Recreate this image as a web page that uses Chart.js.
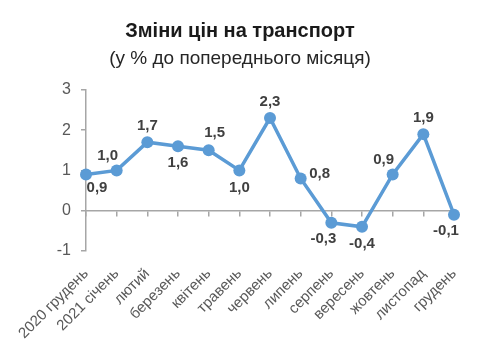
<!DOCTYPE html>
<html>
<head>
<meta charset="utf-8">
<script src="https://cdn.jsdelivr.net/npm/chart.js@4"></script>
<style>
  body { margin: 0; background: #fff; }
  #wrap { width: 480px; height: 352px; }
</style>
</head>
<body>
<div id="wrap"><canvas id="chart" width="480" height="352"></canvas></div>
<script>
// Місяці (категорії осі X)
var months = ['2020 грудень', '2021 січень', 'лютий', 'березень', 'квітень', 'травень',
  'червень', 'липень', 'серпень', 'вересень', 'жовтень', 'листопад', 'грудень'];

// Зміни цін, % до попереднього місяця
var values = [0.9, 1.0, 1.7, 1.6, 1.5, 1.0, 2.3, 0.8, -0.3, -0.4, 0.9, 1.9, -0.1];

// Межі та крок осі Y
var yMin = -1;
var yMax = 3;
var yStep = 1;

// де ставити підпис відносно точки
var labelPos = ['br', 'tl', 't', 'b', 'tr', 'b', 't', 'r', 'bl', 'b', 'tl', 't', 'bl'];

Chart.defaults.font.family = '"Liberation Sans", Arial, sans-serif';

var valueLabels = {
  id: 'valueLabels',
  afterDatasetsDraw: function (chart) {
    var ctx = chart.ctx;
    var meta = chart.getDatasetMeta(0);
    var shift = {
      t: [0, -16], b: [0, 17], r: [19, -5], tl: [-9, -15], tr: [6, -17],
      br: [11, 13], bl: [-8, 16]
    };
    ctx.save();
    ctx.font = 'bold 15px "Liberation Sans", Arial, sans-serif';
    ctx.fillStyle = '#404040';
    ctx.textAlign = 'center';
    ctx.textBaseline = 'middle';
    meta.data.forEach(function (pt, i) {
      var d = shift[labelPos[i]];
      ctx.fillText(values[i].toFixed(1).replace('.', ','), pt.x + d[0], pt.y + d[1]);
    });
    ctx.restore();
  }
};

var chart = new Chart(document.getElementById('chart'), {
  type: 'line',
  data: {
    labels: months,
    datasets: [{
      data: values,
      borderColor: '#5B9BD5',
      backgroundColor: '#5B9BD5',
      borderWidth: 3.5,
      pointRadius: 6,
      pointBorderWidth: 0,
      pointBackgroundColor: '#5B9BD5',
      tension: 0
    }]
  },
  options: {
    responsive: false,
    animation: false,
    layout: { padding: 0 },
    plugins: {
      legend: { display: false },
      tooltip: { enabled: false },
      title: {
        display: true,
        text: 'Зміни цін на транспорт',
        color: '#1a1a1a',
        font: { size: 20, weight: 'bold' },
        padding: { top: 19, bottom: 4 }
      },
      subtitle: {
        display: true,
        text: '(у % до попереднього місяця)',
        color: '#262626',
        font: { size: 19 },
        padding: { top: 0, bottom: 20 }
      }
    },
    scales: {
      x: {
        position: 'bottom',
        border: { display: false },
        grid: { display: false },
        ticks: {
          color: '#595959',
          font: { size: 15 },
          minRotation: 45,
          maxRotation: 45,
          autoSkip: false,
          padding: 6
        },
        afterFit: function (s) { s.height = 101; }
      },
      x0: {
        type: 'category',
        position: { y: 0 },
        border: { color: '#a6a6a6', width: 1.5 },
        grid: { drawOnChartArea: false, tickLength: 5, color: '#a6a6a6', lineWidth: 1.5 },
        ticks: { display: false }
      },
      y: {
        min: yMin,
        max: yMax,
        border: { color: '#a6a6a6', width: 1.5 },
        grid: { drawOnChartArea: false, tickLength: 5, color: '#a6a6a6', lineWidth: 1.5 },
        ticks: { stepSize: yStep, color: '#595959', font: { size: 16 }, padding: 10 },
        afterFit: function (s) { s.width = 86; }
      },
      // порожня вісь праворуч, лише для відступу
      yPad: {
        type: 'linear',
        position: 'right',
        border: { display: false },
        grid: { display: false },
        ticks: { display: false },
        afterFit: function (s) { s.width = 26; }
      }
    }
  },
  plugins: [valueLabels]
});
</script>
</body>
</html>
